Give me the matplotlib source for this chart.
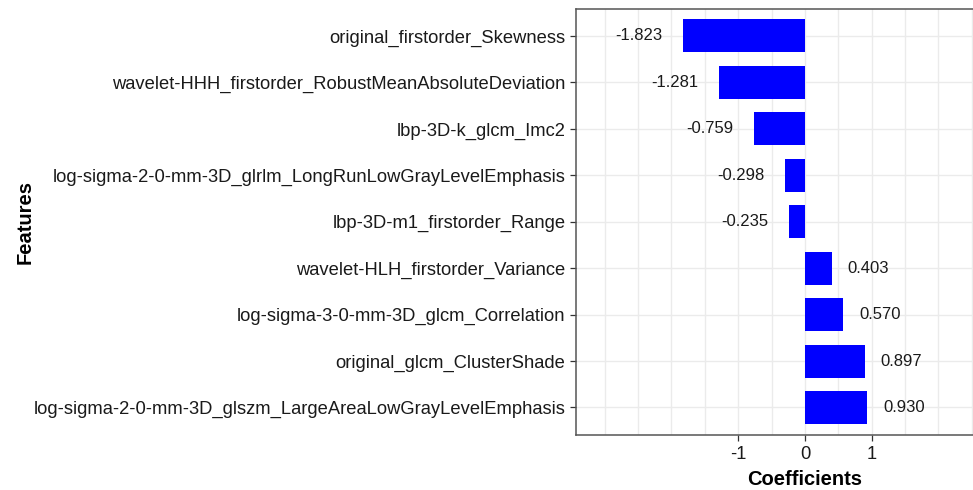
import numpy as np
import matplotlib.pyplot as plt

features = [
    "original_firstorder_Skewness",
    "wavelet-HHH_firstorder_RobustMeanAbsoluteDeviation",
    "lbp-3D-k_glcm_Imc2",
    "log-sigma-2-0-mm-3D_glrlm_LongRunLowGrayLevelEmphasis",
    "lbp-3D-m1_firstorder_Range",
    "wavelet-HLH_firstorder_Variance",
    "log-sigma-3-0-mm-3D_glcm_Correlation",
    "original_glcm_ClusterShade",
    "log-sigma-2-0-mm-3D_glszm_LargeAreaLowGrayLevelEmphasis",
]
coefs = [-1.823, -1.281, -0.759, -0.298, -0.235, 0.403, 0.570, 0.897, 0.930]

plt.rcParams["font.family"] = ["Liberation Sans", "DejaVu Sans"]

fig = plt.figure(figsize=(9.73, 4.9), dpi=100)
# panel runs past the right edge of the figure
ax = fig.add_axes([0.592, 0.1116, 0.4705, 0.8700])

y = np.arange(len(features))
ax.barh(y, coefs, height=0.71, color="#0000ff", zorder=3)

# coefficient labels just past the bar ends
for yi, c in zip(y, coefs):
    if c < 0:
        ax.annotate(f"{c:.3f}", (c, yi), xytext=(-15, 0), textcoords="offset points",
                    ha="right", va="center", fontsize=12, color="#1a1a1a")
    else:
        ax.annotate(f"{c:.3f}", (c, yi), xytext=(11.5, 0), textcoords="offset points",
                    ha="left", va="center", fontsize=12, color="#1a1a1a")

ax.set_xlim(-3.43, 3.43)
ax.set_ylim(len(features) - 1 + 0.6, -0.58)
ax.set_yticks(y)
ax.set_yticklabels(features, fontsize=13.2, color="#1a1a1a")
ax.set_xticks([-1, 0, 1])
ax.set_xticklabels(["-1", "0", "1"], fontsize=13.2, color="#1a1a1a")
ax.set_xticks(np.arange(-3, 3.1, 0.5), minor=True)
ax.tick_params(axis="x", which="minor", length=0)
ax.tick_params(axis="both", which="major", length=4, width=0.9, color="#333333")

ax.grid(True, which="both", axis="x", color="#ebebeb", linewidth=1.0, zorder=0)
ax.grid(True, which="major", axis="y", color="#ebebeb", linewidth=1.0, zorder=0)

for side in ["top", "left", "bottom"]:
    ax.spines[side].set_color("#555555")
    ax.spines[side].set_linewidth(1.1)
ax.spines["right"].set_visible(False)

ax.set_xlabel("Coefficients", fontsize=14.5, fontweight="bold", labelpad=5)
ax.set_ylabel("Features", fontsize=14.5, fontweight="bold")
ax.yaxis.set_label_coords(-1.182, 0.5)

fig.savefig("out.png", dpi=100)
